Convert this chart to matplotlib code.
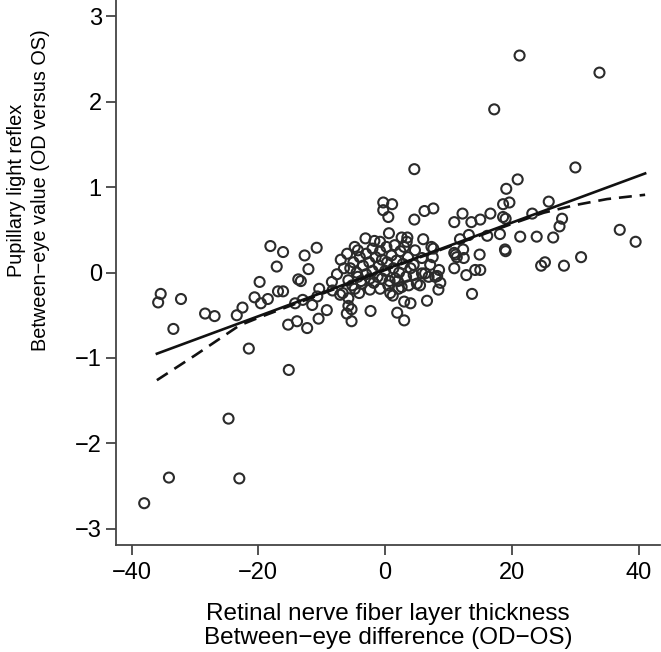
import matplotlib
matplotlib.use('Agg')
import matplotlib.pyplot as plt
import numpy as np

plt.rcParams['font.family'] = ['Liberation Sans', 'DejaVu Sans']

# between-eye RNFL difference (x) and pupillary light reflex value (y)
rnfl_diff = [
    -38.0, -34.1, -23.0, -24.7,
    -35.4, -35.8, -32.2, -33.4, -28.4, -26.9, -23.4, -22.5, -21.5, -19.8, -20.6,
    -19.6, -18.5, -18.1, -17.1, -16.1, -16.9, -16.1, -15.2, -15.3, -13.9, -12.3,
    -14.2, -13.0, -11.5, -13.7, -13.3, -12.7, -12.1, -10.8, -10.4, -10.5, -10.7,
    -8.4, -7.0, -7.6, -8.3, -6.7, -9.2, -6.05, -5.3, -5.3, -2.3, -4.1, -3.1,
    -1.7, -0.8, 0.6, 2.6, 3.5, 6.0, 7.3, 7.5, 10.9, 12.3, 11.1, 13.2, 14.9,
    10.9, 12.8, 14.2, 13.7, 8.5, 8.2, 8.7, 8.4, 6.6, 6.85, 7.1, 5.0, 5.8, 4.0,
    3.0, 1.9, 3.0, 0.8, 1.2, -0.8, -2.4,
    -4.3, -4.3, -5.8, -4.8, 2.1, -3.7, 1.6, -0.5, -2.4, -7.1, -5.8, -5.8,
    12.4, 11.3, 7.6, 7.9, 6.3, 5.5, 4.5, 3.7, 2.6, 5.8, 4.7, 4.5,
    10.9, 13.6, 15.0, 11.8, 3.4,
    -0.3, 1.1, -0.3, 0.5,
    21.2, 17.2, 33.8, 4.6, 20.9, 30.0, 19.1, 18.6, 19.6, 6.2, 7.6, 4.6, 12.2,
    16.6, 18.6, 19.0, 25.8, 23.2, 27.9, 27.5, 16.1, 18.1, 21.3, 23.9, 26.5,
    37.0, 39.5, 18.9, 19.0, 24.6, 25.2, 28.2, 30.9, 15.0,
    -5.5, -5.0, -4.5, -4.0, -3.5, -3.0, -3.0, -2.5, -2.0, -2.0, -1.5, -1.2,
    -1.0, -0.8, -0.5, 0.0, 0.2, 0.3, 0.7, 1.0, 1.3, 1.5, 1.8, 2.2, 2.4, 2.8,
    3.0, 3.3, 3.6, 4.0, -4.8, -6.0, -3.8, 0.5, 2.0, -1.8, -5.2, -6.5,
]
plr_value = [
    -2.70, -2.40, -2.41, -1.71,
    -0.25, -0.35, -0.31, -0.66, -0.48, -0.51, -0.50, -0.41, -0.89, -0.11, -0.29,
    -0.36, -0.31, 0.31, 0.07, 0.24, -0.22, -0.22, -1.14, -0.61, -0.57, -0.65,
    -0.36, -0.32, -0.38, -0.08, -0.10, 0.20, 0.04, 0.29, -0.19, -0.54, -0.28,
    -0.11, 0.15, -0.02, -0.21, -0.24, -0.44, -0.48, -0.43, -0.57, -0.45, -0.24, 0.40,
    0.37, 0.36, 0.46, 0.41, 0.41, 0.39, 0.30, 0.18, 0.23, 0.27, 0.21, 0.44, 0.21,
    0.05, -0.03, 0.03, -0.25, 0.03, -0.04, -0.12, -0.20, -0.33, -0.05, 0.09, -0.13, -0.01, -0.36,
    -0.34, -0.47, -0.56, -0.24, -0.27, -0.19, -0.20,
    0.26, -0.05, -0.09, -0.19, -0.19, -0.13, -0.07, -0.07, -0.07, -0.26, -0.30, -0.39,
    0.17, 0.18, 0.28, -0.05, -0.01, -0.15, -0.03, -0.15, -0.17, 0.17, 0.26, 0.09,
    0.59, 0.59, 0.62, 0.39, 0.36,
    0.82, 0.80, 0.73, 0.65,
    2.54, 1.91, 2.34, 1.21, 1.09, 1.23, 0.98, 0.80, 0.82, 0.72, 0.75, 0.62, 0.69,
    0.69, 0.65, 0.63, 0.83, 0.69, 0.63, 0.54, 0.43, 0.45, 0.42, 0.42, 0.41,
    0.50, 0.36, 0.27, 0.25, 0.08, 0.12, 0.08, 0.18, 0.03,
    0.05, 0.12, 0.00, 0.18, 0.08, -0.02, 0.22, 0.12, 0.28, 0.02, 0.18, -0.05,
    0.08, 0.25, 0.15, 0.02, 0.30, 0.12, -0.10, 0.20, 0.05, 0.32, 0.14, 0.00, 0.25, 0.10,
    0.30, -0.05, 0.18, 0.05, 0.30, 0.22, -0.10, -0.15, -0.10, -0.12, -0.15, 0.05,
]

# linear fit end points and lowess-type smoother
fit_x = [-36, 41]
fit_y = [-0.95, 1.16]
smooth_x = [-36, -30, -23, -20, -10, 0, 10, 20, 25, 30, 35, 41]
smooth_y = [-1.26, -0.97, -0.62, -0.53, -0.25, 0.03, 0.30, 0.57, 0.70, 0.79, 0.86, 0.91]

fig = plt.figure(figsize=(6.61, 6.52), dpi=100)
ax = fig.add_axes([0.175, 0.164, 0.824, 0.836])

ax.scatter(rnfl_diff, plr_value, s=52, facecolors='none', edgecolors='#2b2b2b',
           linewidths=1.5, zorder=3)
ax.plot(fit_x, fit_y, color='#111111', lw=1.9, zorder=4)
ax.plot(smooth_x, smooth_y, color='#111111', lw=1.9, dashes=(4.9, 3.0), zorder=4)

ax.set_xlim(-42.5, 43.4)
ax.set_ylim(-3.19, 3.19)
ax.set_xticks([-40, -20, 0, 20, 40])
ax.set_yticks([-3, -2, -1, 0, 1, 2, 3])

for side in ['top', 'right']:
    ax.spines[side].set_visible(False)
for side in ['left', 'bottom']:
    ax.spines[side].set_color('#444444')
    ax.spines[side].set_linewidth(1.3)

ax.tick_params(axis='both', direction='out', length=7, width=1.3, color='#444444',
               labelsize=17)
ax.tick_params(axis='x', pad=5)
ax.tick_params(axis='y', pad=3)

ax.set_xlabel('Retinal nerve fiber layer thickness\nBetween\u2212eye difference (OD\u2212OS)',
              fontsize=17.5, linespacing=1.12)
ax.xaxis.set_label_coords(0.5, -0.106)
ax.set_ylabel('Pupillary light reflex\nBetween\u2212eye value (OD versus OS)',
              fontsize=14.3, linespacing=1.35)
ax.yaxis.set_label_coords(-0.12, 0.651)

plt.savefig('out.png', dpi=100)
